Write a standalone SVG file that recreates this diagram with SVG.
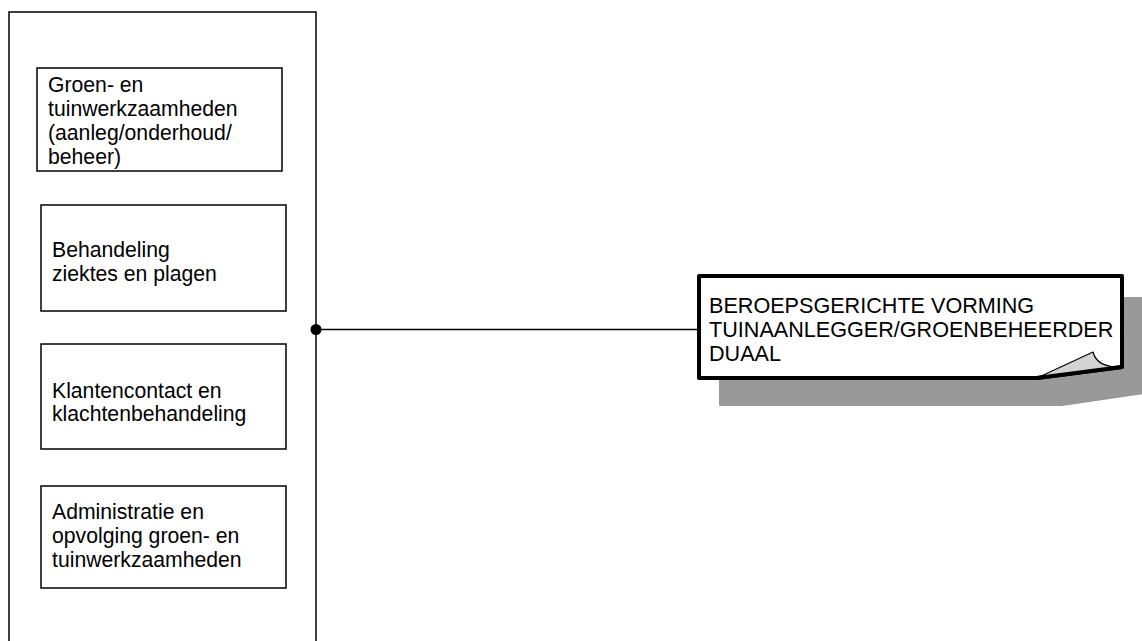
<svg xmlns="http://www.w3.org/2000/svg" width="1142" height="641" viewBox="0 0 1142 641">
  <style>
    .t { font-family: "Liberation Sans", Arial, sans-serif; font-size: 21.2px; fill: #000; }
    .c { font-size: 21.6px; }
    .box { fill: #fff; stroke: #000; stroke-width: 1.5; }
  </style>
  <rect x="0" y="0" width="1142" height="641" fill="#fff"/>

  <g id="container">
    <rect x="9" y="12" width="307" height="660" fill="none" stroke="#000" stroke-width="1.5"/>
  </g>

  <g id="node-groen">
    <rect class="box" x="37" y="68" width="245" height="103"/>
    <text class="t" x="48" y="91.5">Groen- en</text>
    <text class="t" x="48" y="115.5">tuinwerkzaamheden</text>
    <text class="t" x="48" y="139.5">(aanleg/onderhoud/</text>
    <text class="t" x="48" y="163.5">beheer)</text>
  </g>

  <g id="node-behandeling">
    <rect class="box" x="41" y="205" width="245" height="106"/>
    <text class="t" x="52" y="257">Behandeling</text>
    <text class="t" x="52" y="281">ziektes en plagen</text>
  </g>

  <g id="node-klanten">
    <rect class="box" x="41" y="344" width="245" height="105"/>
    <text class="t" x="52" y="398">Klantencontact en</text>
    <text class="t" x="52" y="421">klachtenbehandeling</text>
  </g>

  <g id="node-administratie">
    <rect class="box" x="41" y="486" width="245" height="102"/>
    <text class="t" x="52" y="519">Administratie en</text>
    <text class="t" x="52" y="543">opvolging groen- en</text>
    <text class="t" x="52" y="567">tuinwerkzaamheden</text>
  </g>

  <g id="connectors">
    <line x1="316" y1="329.5" x2="699" y2="329.5" stroke="#000" stroke-width="1.5"/>
    <circle cx="316" cy="329.5" r="5.5" fill="#000"/>
  </g>

  <g id="node-beroeps">
    <path d="M720 298 H1150 V392 L1062 405 H720 Z" fill="#999" stroke="#999" stroke-width="2" stroke-linejoin="round"/>
    <path d="M699 276 H1122 V367 L1037 378 H699 Z" fill="#fff" stroke="#000" stroke-width="4" stroke-linejoin="round"/>
    <path d="M1037 378 L1093 352 Q1097 368 1122 367 Z" fill="#d4d4d4" stroke="#000" stroke-width="1.2" stroke-linejoin="round"/>
    <line x1="1122" y1="367" x2="1037" y2="378" stroke="#000" stroke-width="4" stroke-linecap="round"/>
    <text class="t c" x="709" y="313">BEROEPSGERICHTE VORMING</text>
    <text class="t c" x="709" y="337">TUINAANLEGGER/GROENBEHEERDER</text>
    <text class="t c" x="709" y="361">DUAAL</text>
  </g>
</svg>
